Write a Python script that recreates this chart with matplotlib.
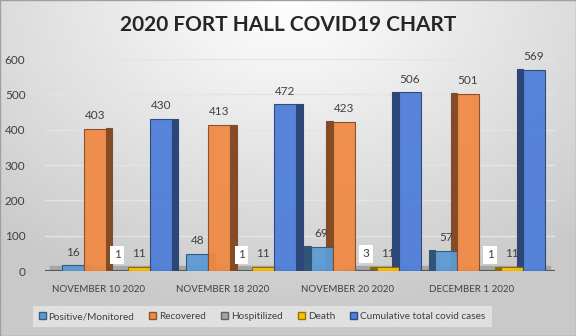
import numpy as np
import matplotlib.pyplot as plt
import matplotlib.colors as mcolors

plt.rcParams['font.family'] = ['Lato', 'DejaVu Sans']

dates = ["NOVEMBER 10 2020", "NOVEMBER 18 2020", "NOVEMBER 20 2020", "DECEMBER 1 2020"]
series = ["Positive/Monitored", "Recovered", "Hospitilized", "Death", "Cumulative total covid cases"]
positive = [16, 48, 69, 57]
recovered = [403, 413, 423, 501]
hospitalized = [1, 1, 3, 1]
death = [11, 11, 11, 11]
cumulative = [430, 472, 506, 569]
colors = ["#5B9BD5", "#F08A45", "#A5A5A5", "#FFC000", "#4F7FD8"]

values = [positive, recovered, hospitalized, death, cumulative]

fig = plt.figure(figsize=(5.76, 3.36), dpi=100)

# background gradient
bg = fig.add_axes([0, 0, 1, 1], zorder=-10)
yy, xx = np.mgrid[0:1:200j, 0:1:300j]
r = np.sqrt(((xx - 0.5) * 1.1) ** 2 + (yy * 0.9) ** 2)
bg.imshow(r, cmap=mcolors.LinearSegmentedColormap.from_list("g", ["#ffffff", "#c9c9c9"]),
          extent=[0, 1, 0, 1], aspect="auto", vmin=0, vmax=0.85)
bg.set_axis_off()
fig.patches.append(plt.Rectangle((0, 0), 1, 1, transform=fig.transFigure,
                                 fill=False, edgecolor="#a0a0a0", lw=1))

ax = fig.add_axes([0.078, 0.193, 0.885, 0.631])
ax.set_facecolor("none")
x = np.arange(len(dates))
w = 0.177

ax.axhspan(0, 14, xmin=0.01, xmax=0.99, color="#a6a6a6", zorder=1)
ax.axhline(0, color="#595959", lw=1.5, zorder=1.5)

for i, (vals, c) in enumerate(zip(values, colors)):
    pos = x + (i - 2) * w
    dark = np.array(mcolors.to_rgb(c)) * 0.55
    for j, (p, v) in enumerate(zip(pos, vals)):
        # side face on the side away from the middle of the chart
        side = 0.05 if p < 1.5 else -0.05
        sx = p + w / 2 if side > 0 else p - w / 2 + side
        ax.bar(sx, v + 4, width=abs(side), bottom=-2, align="edge",
               color=dark, edgecolor=dark, lw=0.8, zorder=2)
    ax.bar(pos, vals, width=w, color=c, edgecolor=dark, lw=0.8, alpha=0.95, zorder=3)
    for p, v in zip(pos, vals):
        if i == 2:
            ax.text(p, v + 30, str(v), ha="center", va="bottom", fontsize=8.5,
                    color="#404040", zorder=5,
                    bbox=dict(facecolor="white", edgecolor="none", pad=2.5))
        else:
            ax.text(p, v + 22, str(v), ha="center", va="bottom", fontsize=8.5,
                    color="#404040", zorder=5)

ax.set_xlim(-0.58, 3.52)
ax.set_ylim(0, 600)
ax.set_yticks(range(0, 601, 100))
ax.grid(axis="y", color="#e4e4e4", lw=1)
ax.set_axisbelow(True)
ax.set_xticks(x - 0.15)
ax.set_xticklabels(dates, fontsize=7, color="#404040")
ax.tick_params(length=0, labelsize=8.5, labelcolor="#404040")
ax.tick_params(axis="x", labelsize=7.0, pad=10)
ax.tick_params(axis="y", pad=14)
for s in ax.spines.values():
    s.set_visible(False)

fig.text(0.5, 0.925, "2020 FORT HALL COVID19 CHART", ha="center", va="center",
         fontsize=15, fontweight="bold", color="#262626")

handles = [plt.Rectangle((0, 0), 1, 1, facecolor=c, edgecolor=np.array(mcolors.to_rgb(c)) * 0.6)
           for c in colors]
leg = fig.legend(handles, series, loc="center", bbox_to_anchor=(0.455, 0.058), ncol=5,
                 fontsize=7.2, frameon=True, fancybox=False, handlelength=0.7,
                 handleheight=0.7, handletextpad=0.3, columnspacing=1.5,
                 labelcolor="#404040", borderpad=0.6)
leg.get_frame().set_facecolor("#e6e6e6")
leg.get_frame().set_edgecolor("none")

fig.savefig("out.png", dpi=100)
